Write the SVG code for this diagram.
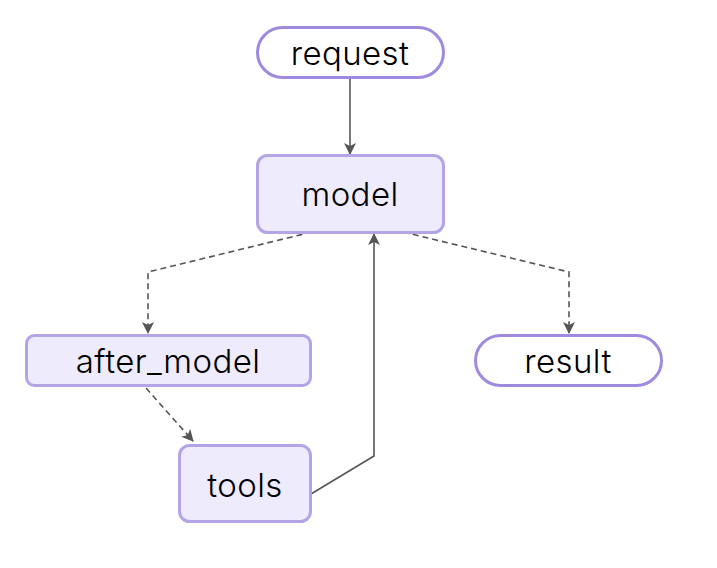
<svg xmlns="http://www.w3.org/2000/svg" width="717" height="568" viewBox="0 0 717 568">
<style>
.term{fill:#ffffff;stroke:#a08ae0;stroke-width:3}
.box{fill:#eeebfc;stroke:#b5a3e8;stroke-width:3}
.lbl{font-family:Inter,"Liberation Sans",sans-serif;font-size:33px;font-weight:300;letter-spacing:0.4px;fill:#000;text-anchor:middle;dominant-baseline:central}
.e{fill:none;stroke:#555;stroke-width:1.6}
.d{stroke-dasharray:6 4}
</style>
<defs>
<marker id="ah" viewBox="0 0 12 12" refX="11" refY="6" markerWidth="12" markerHeight="12" markerUnits="userSpaceOnUse" orient="auto">
<path d="M0,0 L12,6 L0,12 L3,6 Z" fill="#555"/>
</marker>
</defs>
<rect width="717" height="568" fill="#fff"/>
<g id="edges">
<path class="e" d="M350,79 V154" marker-end="url(#ah)"/>
<path class="e d" d="M312,232 L148,272 V333" marker-end="url(#ah)"/>
<path class="e d" d="M403,232 L569,272 V333" marker-end="url(#ah)"/>
<path class="e d" d="M146,388 L193,441" marker-end="url(#ah)"/>
<path class="e" d="M311,494 L374,456 V234" marker-end="url(#ah)"/>
</g>
<g id="request"><rect class="term" x="257.5" y="27.5" width="186" height="50" rx="25"/><text class="lbl" x="350" y="53">request</text></g>
<g id="model"><rect class="box" x="257.5" y="155.5" width="186" height="77" rx="10"/><text class="lbl" x="350" y="194">model</text></g>
<g id="after_model"><rect class="box" x="26.5" y="335.5" width="284" height="50" rx="8"/><text class="lbl" x="168" y="361">after_model</text></g>
<g id="tools"><rect class="box" x="179.5" y="445.5" width="131" height="76" rx="10"/><text class="lbl" x="245" y="485">tools</text></g>
<g id="result"><rect class="term" x="475.5" y="335.5" width="186" height="50" rx="25"/><text class="lbl" x="568" y="361">result</text></g>
</svg>
